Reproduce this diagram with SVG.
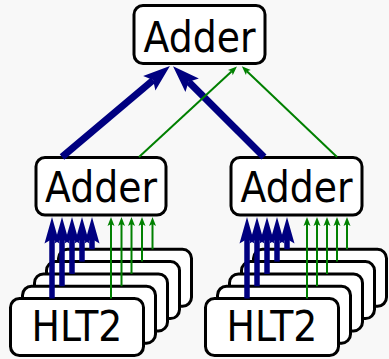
<svg xmlns="http://www.w3.org/2000/svg" width="389" height="359" viewBox="0 0 389 359">
  <style>
    .box { fill: #ffffff; stroke: #000000; stroke-width: 3; }
    .lbl { font-family: "DejaVu Sans Condensed", "DejaVu Sans", sans-serif; font-stretch: condensed; font-size: 42px; fill: #000000; text-anchor: middle; }
    .thick { stroke: #000080; stroke-width: 7; fill: none; }
    .thin { stroke: #008000; stroke-width: 2; fill: none; }
    .feed { stroke: #000080; stroke-width: 5.5; fill: none; }
  </style>
  <defs>
    <!-- stealth heads; the line ends at the notch, the tip lies beyond it -->
    <marker id="headBlueBig" markerUnits="userSpaceOnUse" viewBox="-6 -11 30 22" markerWidth="30" markerHeight="22" refX="0" refY="0" orient="auto">
      <path d="M22,0 L-5,-9.5 L0,0 L-5,9.5 Z" fill="#000080"/>
    </marker>
    <marker id="headBlue" markerUnits="userSpaceOnUse" viewBox="-6 -9 30 18" markerWidth="30" markerHeight="18" refX="0" refY="0" orient="auto">
      <path d="M22,0 L-4.5,-7.5 L0,0 L-4.5,7.5 Z" fill="#000080"/>
    </marker>
    <marker id="headGreen" markerUnits="userSpaceOnUse" viewBox="-3 -5 12 10" markerWidth="12" markerHeight="10" refX="0" refY="0" orient="auto">
      <path d="M7,0 L-2,-3.5 L0,0 L-2,3.5 Z" fill="#008000"/>
    </marker>
    <rect id="hltBox" class="box" width="133" height="57" rx="9"/>
  </defs>

  <rect width="389" height="359" fill="#f8f8f8"/>

  <!-- top-level adder -->
  <g id="adder-top">
    <rect class="box" x="134" y="5.5" width="131" height="58" rx="9"/>
    <text class="lbl" x="199.5" y="52">Adder</text>
  </g>

  <!-- second-level adders -->
  <g id="adder-left">
    <rect class="box" x="36" y="157.5" width="130" height="57.5" rx="9"/>
    <text class="lbl" x="101" y="202">Adder</text>
  </g>
  <g id="adder-right">
    <rect class="box" x="231" y="157.5" width="131" height="57.5" rx="9"/>
    <text class="lbl" x="296.5" y="202">Adder</text>
  </g>

  <!-- HLT2 farm, left: stacked nodes, back to front -->
  <g id="hlt2-left">
    <use href="#hltBox" x="58.5" y="249.3"/>
    <use href="#hltBox" x="46.5" y="261.6"/>
    <use href="#hltBox" x="34.5" y="273.9"/>
    <use href="#hltBox" x="22.5" y="286.2"/>
    <use href="#hltBox" x="10.5" y="298.5"/>
    <text class="lbl" x="77" y="341">HLT2</text>
  </g>

  <!-- HLT2 farm, right -->
  <g id="hlt2-right">
    <use href="#hltBox" x="253.5" y="249.3"/>
    <use href="#hltBox" x="241.5" y="261.6"/>
    <use href="#hltBox" x="229.5" y="273.9"/>
    <use href="#hltBox" x="217.5" y="286.2"/>
    <use href="#hltBox" x="205.5" y="298.5"/>
    <text class="lbl" x="272" y="341">HLT2</text>
  </g>

  <g id="connectors">
    <!-- left farm to left adder -->
    <line class="feed" x1="52" y1="298.5" x2="52" y2="239" marker-end="url(#headBlue)"/>
    <line class="feed" x1="62" y1="286.2" x2="62" y2="239" marker-end="url(#headBlue)"/>
    <line class="feed" x1="72" y1="273.9" x2="72" y2="239" marker-end="url(#headBlue)"/>
    <line class="feed" x1="82" y1="261.6" x2="82" y2="239" marker-end="url(#headBlue)"/>
    <line class="feed" x1="92" y1="249.3" x2="92" y2="239" marker-end="url(#headBlue)"/>
    <line class="thin" x1="111" y1="298.5" x2="111" y2="224" marker-end="url(#headGreen)"/>
    <line class="thin" x1="121.5" y1="286.2" x2="121.5" y2="224" marker-end="url(#headGreen)"/>
    <line class="thin" x1="131.5" y1="273.9" x2="131.5" y2="224" marker-end="url(#headGreen)"/>
    <line class="thin" x1="142" y1="261.6" x2="142" y2="224" marker-end="url(#headGreen)"/>
    <line class="thin" x1="152.5" y1="249.3" x2="152.5" y2="224" marker-end="url(#headGreen)"/>

    <!-- right farm to right adder -->
    <line class="feed" x1="247" y1="298.5" x2="247" y2="239" marker-end="url(#headBlue)"/>
    <line class="feed" x1="257" y1="286.2" x2="257" y2="239" marker-end="url(#headBlue)"/>
    <line class="feed" x1="267" y1="273.9" x2="267" y2="239" marker-end="url(#headBlue)"/>
    <line class="feed" x1="277" y1="261.6" x2="277" y2="239" marker-end="url(#headBlue)"/>
    <line class="feed" x1="287" y1="249.3" x2="287" y2="239" marker-end="url(#headBlue)"/>
    <line class="thin" x1="307" y1="298.5" x2="307" y2="224" marker-end="url(#headGreen)"/>
    <line class="thin" x1="317" y1="286.2" x2="317" y2="224" marker-end="url(#headGreen)"/>
    <line class="thin" x1="327" y1="273.9" x2="327" y2="224" marker-end="url(#headGreen)"/>
    <line class="thin" x1="337" y1="261.6" x2="337" y2="224" marker-end="url(#headGreen)"/>
    <line class="thin" x1="347" y1="249.3" x2="347" y2="224" marker-end="url(#headGreen)"/>

    <!-- second level to top adder -->
    <line class="thick" x1="62" y1="157" x2="153.1" y2="80.1" marker-end="url(#headBlueBig)"/>
    <line class="thick" x1="264" y1="157" x2="188.6" y2="81.7" marker-end="url(#headBlueBig)"/>
    <line class="thin" x1="139" y1="157" x2="231.8" y2="71.2" marker-end="url(#headGreen)"/>
    <line class="thin" x1="337" y1="157" x2="246.9" y2="71.2" marker-end="url(#headGreen)"/>
  </g>
</svg>
